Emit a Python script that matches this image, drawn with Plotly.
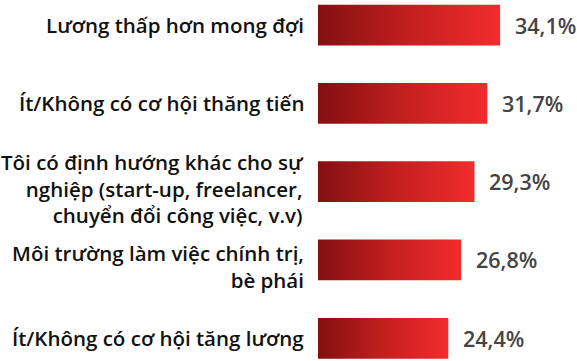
import plotly.graph_objects as go

# Survey reasons and their shares (%); each reason is a list of display lines
reasons = [
    ["Lương thấp hơn mong đợi"],
    ["Ít/Không có cơ hội thăng tiến"],
    ["Tôi có định hướng khác cho sự", "nghiệp (start-up, freelancer,", "chuyển đổi công việc, v.v)"],
    ["Môi trường làm việc chính trị,", "bè phái"],
    ["Ít/Không có cơ hội tăng lương"],
]
shares = [34.1, 31.7, 29.3, 26.8, 24.4]
share_labels = ["34,1%", "31,7%", "29,3%", "26,8%", "24,4%"]

FONT = "Open Sans"
BAR_H = 0.52
MULTI_DROP_PX = 7  # wrapped labels sit slightly below the bar centre
GRADIENT = [[0, "#831010"], [0.5, "#c41f1f"], [1, "#f22c2c"]]

fig = go.Figure()

for i, (lines, v) in enumerate(zip(reasons, shares)):
    y0, y1 = i - BAR_H / 2, i + BAR_H / 2
    fig.add_trace(go.Scatter(
        x=[0, v, v, 0, 0],
        y=[y0, y0, y1, y1, y0],
        mode="lines",
        line=dict(width=0),
        fill="toself",
        fillgradient=dict(type="horizontal", colorscale=GRADIENT),
        hoverinfo="skip",
        showlegend=False,
    ))
    # category label to the left of the bar
    drop = MULTI_DROP_PX if len(lines) > 1 else 0
    fig.add_annotation(
        x=0, y=i, xref="x", yref="y",
        text="<br>".join(lines), showarrow=False,
        xanchor="right", yanchor="middle", align="right",
        xshift=-12, yshift=-drop,
        font=dict(family=FONT, size=20.5, color="#111111", weight=600),
    )
    # value label to the right of the bar
    fig.add_annotation(
        x=v, y=i, xref="x", yref="y",
        text=share_labels[i], showarrow=False,
        xanchor="left", yanchor="middle",
        xshift=13,
        font=dict(family=FONT, size=21.5, color="#444444", weight=600),
    )

fig.update_layout(
    width=577, height=361,
    margin=dict(l=318, r=0, t=0, b=0),
    paper_bgcolor="white", plot_bgcolor="white",
    xaxis=dict(range=[0, 48.5], visible=False, fixedrange=True),
    yaxis=dict(range=[4.29, -0.32], visible=False, fixedrange=True),
)

fig.write_html("out.html")
